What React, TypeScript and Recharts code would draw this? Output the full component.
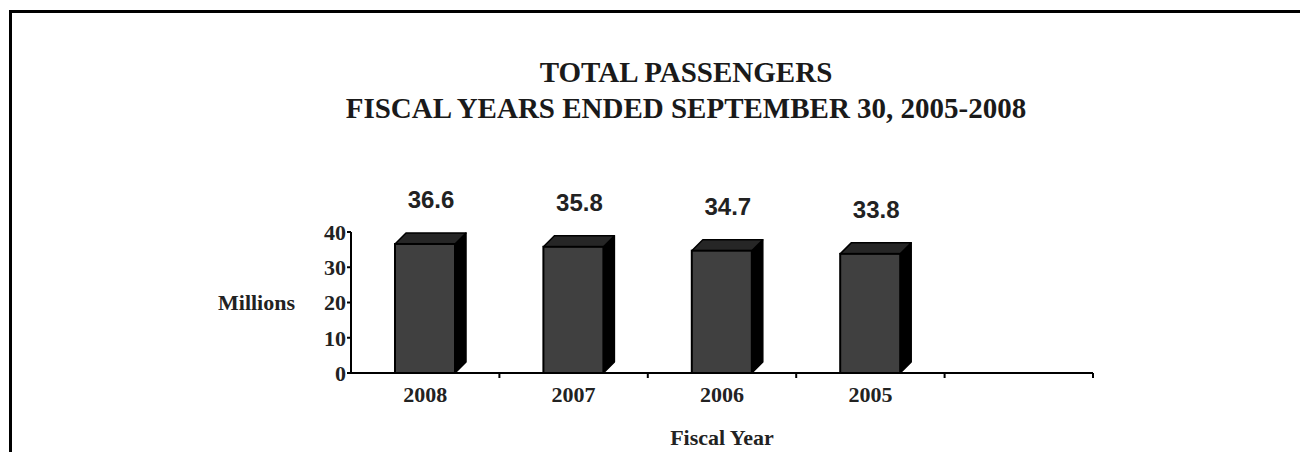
import React from 'react';
import { BarChart, Bar, XAxis, YAxis, LabelList } from 'recharts';

const categories = ['2008', '2007', '2006', '2005', ''];
const passengers: (number | null)[] = [36.6, 35.8, 34.7, 33.8, null];
const yTicks = [0, 10, 20, 30, 40];
const titleLines = ['TOTAL PASSENGERS', 'FISCAL YEARS ENDED SEPTEMBER 30, 2005-2008'];
const yLabel = 'Millions';
const xLabel = 'Fiscal Year';

const data = categories.map((c, i) => ({ year: c, value: passengers[i] }));

const W = 1292;
const H = 444;
const DEPTH = 11;
const SERIF = '"Liberation Serif", "Times New Roman", Times, serif';
const SANS = '"Liberation Sans", Arial, Helvetica, sans-serif';

const Bar3D = (props: any) => {
  const { x, y, width, height } = props;
  if (height == null || height <= 0) return null;
  const d = DEPTH;
  const top = `${x},${y} ${x + d},${y - d} ${x + width + d},${y - d} ${x + width},${y}`;
  const side = `${x + width},${y} ${x + width + d},${y - d} ${x + width + d},${y + height - d} ${x + width},${y + height}`;
  return (
    <g>
      <polygon points={side} fill="#000" stroke="#000" strokeWidth={1.5} strokeLinejoin="round" />
      <polygon points={top} fill="#262626" stroke="#000" strokeWidth={1.5} strokeLinejoin="round" />
      <rect x={x} y={y} width={width} height={height} fill="#404040" stroke="#000" strokeWidth={2} />
    </g>
  );
};

const ValueLabel = (props: any) => {
  const { x, y, width, value } = props;
  if (value == null) return null;
  return (
    <text
      x={x + width / 2 + 6}
      y={y - 36}
      textAnchor="middle"
      fontFamily={SANS}
      fontWeight="bold"
      fontSize={24}
      fill="#222"
    >
      {Number(value).toFixed(1)}
    </text>
  );
};

const XTick = (props: any) => {
  const { x, y, payload, index, visibleTicksCount } = props;
  const half = payload && payload.offset != null ? payload.offset : 742 / categories.length / 2;
  const isLast = index === (visibleTicksCount != null ? visibleTicksCount - 1 : categories.length - 1);
  return (
    <g>
      {index > 0 && <line x1={x - half} x2={x - half} y1={y} y2={y + 5} stroke="#000" strokeWidth={2} />}
      {isLast && <line x1={x + half} x2={x + half} y1={y} y2={y + 5} stroke="#000" strokeWidth={2} />}
      {payload.value !== '' && (
        <text x={x} y={y + 29} textAnchor="middle" fontFamily={SERIF} fontWeight="bold" fontSize={22} fill="#222">
          {payload.value}
        </text>
      )}
    </g>
  );
};

const XLabel = (props: any) => {
  const { viewBox } = props;
  if (!viewBox) return null;
  return (
    <text
      x={viewBox.x + viewBox.width / 2}
      y={viewBox.y + 72}
      textAnchor="middle"
      fontFamily={SERIF}
      fontWeight="bold"
      fontSize={22}
      fill="#222"
    >
      {xLabel}
    </text>
  );
};

export default function App() {
  return (
    <div style={{ position: 'relative', width: W, height: H, overflow: 'hidden', background: '#fff' }}>
      <div
        style={{
          position: 'absolute',
          left: 0.5,
          top: 2,
          width: 3000,
          height: 3000,
          borderLeft: '3px solid #000',
          borderTop: '3px solid #000',
        }}
      />
      <svg width={W} height={H} style={{ position: 'absolute', left: 0, top: 0 }}>
        {titleLines.map((t, i) => (
          <text
            key={i}
            x={678}
            y={74 + i * 36}
            textAnchor="middle"
            fontFamily={SERIF}
            fontWeight="bold"
            fontSize={29}
            fill="#1a1a1a"
          >
            {t}
          </text>
        ))}
      </svg>
      <div style={{ position: 'absolute', left: 0, top: 0 }}>
        <BarChart width={W} height={H} data={data} margin={{ top: 224, right: 207, bottom: 0, left: 210 }}>
          <XAxis
            dataKey="year"
            axisLine={{ stroke: '#000', strokeWidth: 2 }}
            tickLine={false}
            tickSize={0}
            tickMargin={0}
            height={79}
            interval={0}
            tick={<XTick />}
            label={<XLabel />}
          />
          <YAxis
            domain={[0, 40]}
            ticks={yTicks}
            interval={0}
            width={133}
            axisLine={{ stroke: '#000', strokeWidth: 2 }}
            tickLine={{ stroke: '#000', strokeWidth: 2 }}
            tickSize={4}
            tickMargin={1}
            tick={{ fontFamily: SERIF, fontWeight: 'bold', fontSize: 22, fill: '#222' }}
            label={{
              value: yLabel,
              position: 'insideLeft',
              offset: 0,
              style: { fontFamily: SERIF, fontWeight: 'bold', fontSize: 22, fill: '#222' },
            }}
          />
          <Bar dataKey="value" barSize={60} shape={<Bar3D />} isAnimationActive={false}>
            <LabelList dataKey="value" content={<ValueLabel />} />
          </Bar>
        </BarChart>
      </div>
    </div>
  );
}
